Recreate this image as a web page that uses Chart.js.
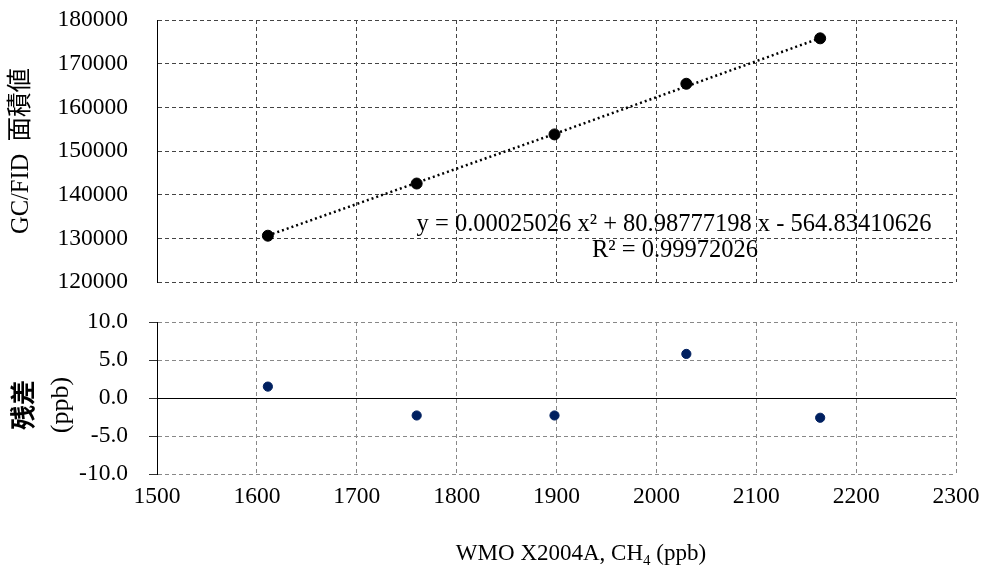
<!DOCTYPE html>
<html>
<head>
<meta charset="utf-8">
<script src="https://cdn.jsdelivr.net/npm/chart.js@4.4.1/dist/chart.umd.min.js"></script>
<style>
body{margin:0;background:#fff;width:981px;height:570px;overflow:hidden;position:relative}
canvas{position:absolute;left:0}
#fitChart{top:0}
#residChart{top:300px}
</style>
</head>
<body>
<canvas id="fitChart" width="981" height="300"></canvas>
<canvas id="residChart" width="981" height="270"></canvas>
<script>
// standard gas values vs. GC/FID peak area
const stdConc = [1611, 1760, 1898, 2030, 2164];
const peakArea = [130600, 142550, 153800, 165400, 175800];
const residual = [1.5, -2.3, -2.3, 5.8, -2.6];

// dotted trendline
const trendX = [1611, 1898, 2164];
const trendY = [130650, 153900, 175850];

const xTicks = [1500, 1600, 1700, 1800, 1900, 2000, 2100, 2200, 2300];
const areaTicks = [120000, 130000, 140000, 150000, 160000, 170000, 180000];
const residTicks = [-10, -5, 0, 5, 10];

const eqText = "y = 0.00025026 x\u00B2 + 80.98777198 x - 564.83410626";
const r2Text = "R\u00B2 = 0.99972026";
const yTitleTop = "GC/FID  面積値";
const yTitleBottom = ["残差", "(ppb)"];

const FONT = "'Liberation Serif', 'Noto Sans CJK JP', serif";
Chart.defaults.font.family = FONT;
Chart.defaults.color = "#000";

const setTicks = arr => s => { s.ticks = arr.map(v => ({value: v})); };
// keep the plot area where it is, label overflow is handled by the page padding
const fixWidth = w => s => { s.width = w; s.paddingTop = 0; s.paddingBottom = 0; };
const fixHeight = h => s => { s.height = h; s.paddingLeft = 0; s.paddingRight = 0; };
const isTick = (c, v) => c.tick && c.tick.value === v;

// equation label on the upper plot
const eqPlugin = {
    id: "eqLabel",
    afterDraw(chart){
        const ctx = chart.ctx;
        ctx.save();
        ctx.font = "24.5px " + FONT;
        ctx.fillStyle = "#000";
        ctx.textAlign = "center";
        ctx.textBaseline = "middle";
        ctx.fillText(eqText, 674, 225);
        ctx.fillText(r2Text, 675, 251);
        ctx.restore();
    }
};

// x axis title with subscript 4, and the two-line residual title
const residTextPlugin = {
    id: "residText",
    afterDraw(chart){
        const ctx = chart.ctx;
        const a = "WMO X2004A, CH", sub = "4", b = " (ppb)";
        ctx.save();
        ctx.fillStyle = "#000";
        ctx.textBaseline = "alphabetic";
        ctx.font = "23px " + FONT;
        const wa = ctx.measureText(a).width, wb = ctx.measureText(b).width;
        ctx.font = "15px " + FONT;
        const ws = ctx.measureText(sub).width;
        let x = 581 - (wa + ws + wb) / 2;
        const y = 260;
        ctx.font = "23px " + FONT;
        ctx.fillText(a, x, y); x += wa;
        ctx.font = "15px " + FONT;
        ctx.fillText(sub, x, y + 5); x += ws;
        ctx.font = "23px " + FONT;
        ctx.fillText(b, x, y);
        ctx.restore();

        ctx.save();
        ctx.fillStyle = "#000";
        ctx.textAlign = "center";
        ctx.textBaseline = "middle";
        ctx.translate(0, 105);
        ctx.rotate(-Math.PI / 2);
        ctx.font = "bold 25px " + FONT;
        ctx.fillText(yTitleBottom[0], 0, 26);
        ctx.font = "26px " + FONT;
        ctx.fillText(yTitleBottom[1], 0, 61);
        ctx.restore();
    }
};

new Chart(document.getElementById("fitChart"), {
    type: "scatter",
    data: {
        datasets: [
            {
                data: trendX.map((x, i) => ({x, y: trendY[i]})),
                showLine: true,
                borderColor: "#000",
                borderWidth: 2.5,
                borderDash: [2, 3],
                pointRadius: 0,
                order: 2
            },
            {
                data: stdConc.map((x, i) => ({x, y: peakArea[i]})),
                backgroundColor: "#000",
                borderColor: "#000",
                pointRadius: 5.5,
                order: 1
            }
        ]
    },
    options: {
        responsive: false,
        animation: false,
        devicePixelRatio: 1,
        layout: {padding: {top: 20, right: 25, bottom: 18, left: 0}},
        plugins: {legend: {display: false}, tooltip: {enabled: false}},
        scales: {
            x: {
                type: "linear", min: 1500, max: 2300,
                afterBuildTicks: setTicks(xTicks),
                afterFit: fixHeight(0),
                ticks: {display: false, autoSkip: false},
                grid: {color: c => isTick(c, 1500) ? "rgba(0,0,0,0)" : "#444", lineWidth: 1, drawTicks: false},
                border: {display: false, dash: [4, 3]}
            },
            y: {
                min: 120000, max: 180000,
                afterBuildTicks: setTicks(areaTicks),
                afterFit: fixWidth(157),
                ticks: {font: {size: 23.5}, padding: 29, color: "#000", autoSkip: false, callback: v => String(v)},
                grid: {color: "#444", lineWidth: 1, drawTicks: false},
                border: {display: true, color: "#000", width: 1, dash: [4, 3]},
                title: {display: true, text: yTitleTop, font: {size: 24.5}, padding: {top: 7.3, bottom: 0}, color: "#000"}
            }
        }
    },
    plugins: [eqPlugin]
});

new Chart(document.getElementById("residChart"), {
    type: "scatter",
    data: {
        datasets: [{
            data: stdConc.map((x, i) => ({x, y: residual[i]})),
            backgroundColor: "#002060",
            borderColor: "#002060",
            pointRadius: 4.6
        }]
    },
    options: {
        responsive: false,
        animation: false,
        devicePixelRatio: 1,
        layout: {padding: {top: 22, right: 25, bottom: 0, left: 0}},
        plugins: {legend: {display: false}, tooltip: {enabled: false}},
        scales: {
            x: {
                type: "linear", min: 1500, max: 2300,
                afterBuildTicks: setTicks(xTicks),
                afterFit: fixHeight(96),
                ticks: {font: {size: 23.5}, padding: 9, color: "#000", maxRotation: 0, autoSkip: false, callback: v => String(v)},
                grid: {color: c => isTick(c, 1500) ? "rgba(0,0,0,0)" : "#888", lineWidth: 1, drawTicks: false},
                border: {display: false, dash: [4, 3]}
            },
            y: {
                min: -10, max: 10,
                afterBuildTicks: setTicks(residTicks),
                afterFit: fixWidth(157),
                ticks: {font: {size: 23.5}, padding: 21, color: "#000", autoSkip: false, callback: v => v.toFixed(1)},
                grid: {
                    color: c => isTick(c, 0) ? "#000" : "#888",
                    lineWidth: 1,
                    tickLength: 8,
                    tickColor: "#333"
                },
                border: {
                    display: true, color: "#000", width: 1,
                    dash: c => isTick(c, 0) ? [] : [4, 3]
                }
            }
        }
    },
    plugins: [residTextPlugin]
});
</script>
</body>
</html>
